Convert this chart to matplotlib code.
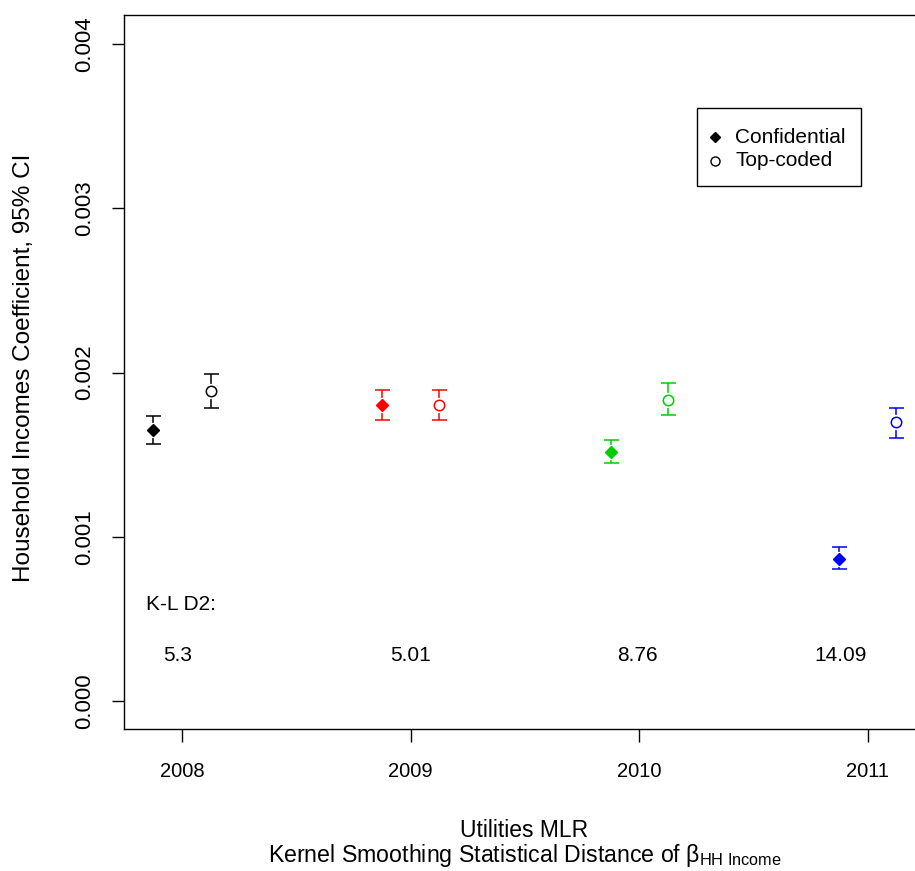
import matplotlib
matplotlib.use("Agg")
import matplotlib.pyplot as plt
from matplotlib.patches import Rectangle
from matplotlib.lines import Line2D

plt.rcParams['font.family'] = ['Liberation Sans', 'DejaVu Sans']
plt.rcParams['mathtext.fontset'] = 'custom'
plt.rcParams['mathtext.rm'] = 'Liberation Sans'
plt.rcParams['mathtext.it'] = 'Liberation Sans:italic'
plt.rcParams['mathtext.default'] = 'regular'

years = [2008, 2009, 2010, 2011]
colors = ['#000000', '#FF0000', '#00CD00', '#0000FF']
conf_est = [0.001650, 0.001802, 0.001514, 0.000865]
conf_lo = [0.001565, 0.001711, 0.001449, 0.000806]
conf_hi = [0.001735, 0.001893, 0.001587, 0.000936]
top_est = [0.001887, 0.001802, 0.001834, 0.001697]
top_lo = [0.001786, 0.001711, 0.001741, 0.001601]
top_hi = [0.001991, 0.001895, 0.001938, 0.001784]
kl_values = ['5.3', '5.01', '8.76', '14.09']
kl_xpos = [2007.98, 2009.0, 2009.99, 2010.88]
yticks = [0.000, 0.001, 0.002, 0.003, 0.004]
ytick_labels = ['0.000', '0.001', '0.002', '0.003', '0.004']
legend_labels = ['Confidential', 'Top-coded']

W, H = 915, 871
fig = plt.figure(figsize=(W / 100, H / 100), dpi=100)
ax = fig.add_axes([124 / W, (H - 729) / H, (925 - 124) / W, (729 - 15) / H])

off = 0.125
for i, yr in enumerate(years):
    c = colors[i]
    for xo, est, lo, hi, mk, ms in [(-off, conf_est[i], conf_lo[i], conf_hi[i], 'D', 6.0),
                                    (off, top_est[i], top_lo[i], top_hi[i], 'o', 7.5)]:
        x = yr + xo
        ax.errorbar([x], [est], yerr=[[est - lo], [hi - est]], fmt='none',
                    ecolor=c, elinewidth=1.1, capsize=5.4, capthick=1.1, zorder=2)
        ax.plot([x], [est], marker='o', ms=10, color='white', mec='white', zorder=3, ls='none')
        if mk == 'D':
            ax.plot([x], [est], marker='D', ms=ms, color=c, mec=c, zorder=4, ls='none')
        else:
            ax.plot([x], [est], marker='o', ms=ms, mfc='white', mec=c, mew=1.1, zorder=4, ls='none')

ax.text(2007.842, 0.000585, 'K-L D2:', fontsize=15, ha='left', va='center')
for xp, lab in zip(kl_xpos, kl_values):
    ax.text(xp, 0.00028, lab, fontsize=15, ha='center', va='center')

ax.set_xlim(2007.746, 2011.25)
ax.set_ylim(-0.00017, 0.004177)
ax.set_xticks(years)
ax.set_xticklabels([str(y) for y in years], fontsize=14.5)
ax.set_yticks(yticks)
ax.set_yticklabels(ytick_labels, fontsize=16, rotation=90, va='center')
ax.tick_params(axis='x', length=9, width=1, pad=15)
ax.tick_params(axis='y', length=9, width=1, pad=12)
for s in ax.spines.values():
    s.set_linewidth(1)

# legend drawn in figure pixel coordinates
def fx(px):
    return px / W

def fy(py):
    return (H - py) / H

fig.add_artist(Rectangle((fx(697), fy(186)), fx(861) - fx(697), fy(108) - fy(186),
                         transform=fig.transFigure, fill=True, facecolor='white',
                         edgecolor='black', lw=1, zorder=5))
fig.add_artist(Line2D([fx(715)], [fy(137)], marker='D', ls='none', color='black', ms=5.5,
                      transform=fig.transFigure, zorder=6))
fig.add_artist(Line2D([fx(715)], [fy(161)], marker='o', ls='none', mfc='white', mec='black',
                      ms=6.5, mew=1, transform=fig.transFigure, zorder=6))
for lab, py in zip(legend_labels, [137, 161]):
    fig.text(fx(735), fy(py), lab, fontsize=15, ha='left', va='center', zorder=6)

fig.text(524.5 / W, (H - 830) / H, 'Utilities MLR', fontsize=16.5, ha='center', va='center')
fig.text(524.5 / W, (H - 855) / H, r'Kernel Smoothing Statistical Distance of $\beta_{\mathrm{HH\ Income}}$',
         fontsize=16.7, ha='center', va='center')
fig.text(24 / W, (H - 367.5) / H, 'Household Incomes Coefficient, 95% CI', fontsize=17.5,
         rotation=90, ha='center', va='center')

fig.savefig('out.png', dpi=100)
